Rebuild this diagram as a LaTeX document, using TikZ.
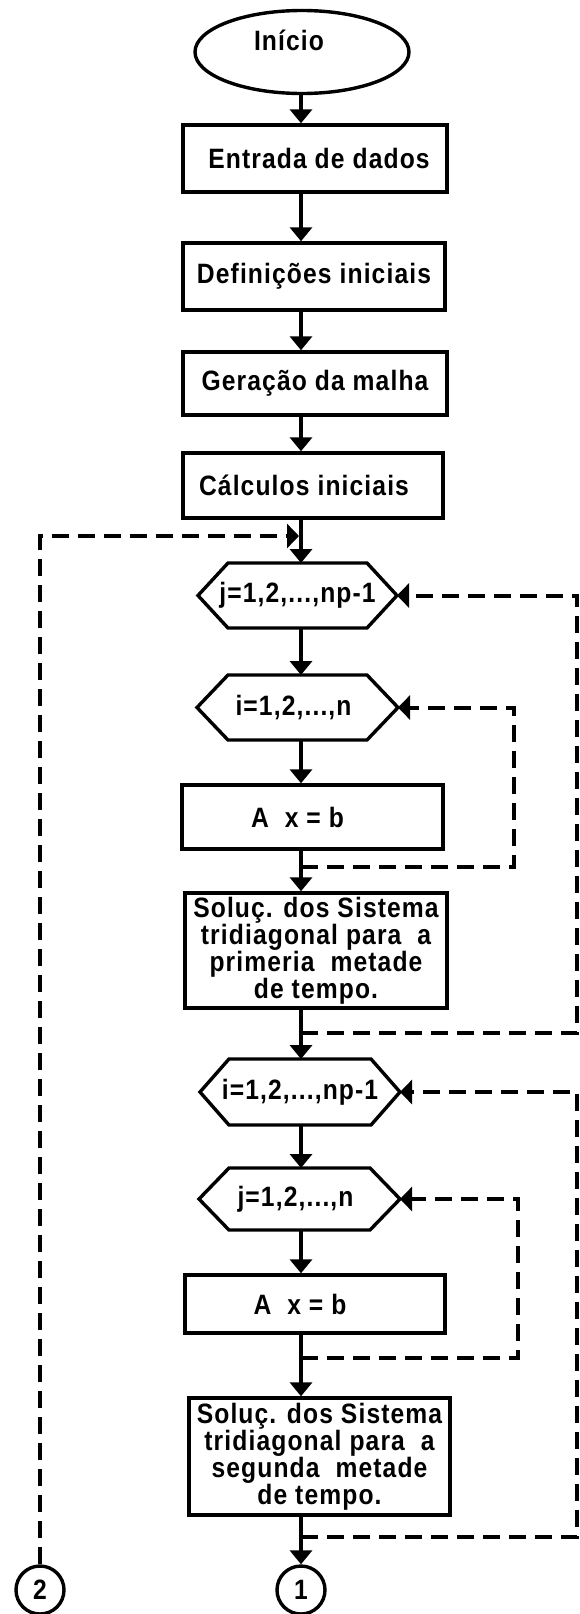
\documentclass[tikz,border=0pt]{standalone}
\usepackage{fontspec}
\setmainfont{Liberation Sans}[LetterSpace=4,FakeStretch=0.88]
\usetikzlibrary{shapes.geometric,arrows.meta}
\newcommand{\hexoutline}[2]{%
  \draw[hexline] (#1.west) -- ([xshift=#2]#1.north west) -- ([xshift=-#2]#1.north east)
    -- (#1.east) -- ([xshift=-#2]#1.south east) -- ([xshift=#2]#1.south west) -- cycle;}
\begin{document}
\begin{tikzpicture}[x=1pt,y=-1pt,
  every node/.style={font=\fontsize{28}{27}\selectfont\bfseries},
  boxnode/.style={draw,rectangle,line width=3.4pt,inner sep=0pt,align=center},
  hexnode/.style={rectangle,inner sep=0pt,outer sep=0pt},
  ellnode/.style={draw,ellipse,line width=3.4pt,inner sep=0pt},
  connnode/.style={draw,circle,line width=3.4pt,inner sep=0pt,minimum size=48pt},
  flowarrow/.style={line width=4pt,-{Triangle[width=22pt,length=14pt]}},
  dashflow/.style={line width=4pt,dash pattern=on 17pt off 9pt,-{Triangle[width=24pt,length=12pt]}},
  hexline/.style={line width=3.4pt,line join=miter}
]
\useasboundingbox (0,0) rectangle (580,1614);

% nodes
\node[ellnode,minimum width=214pt,minimum height=83pt,
      label={[xshift=-13pt,yshift=12pt]center:Início}] (ini) at (302,52) {};
\node[boxnode,minimum width=264pt,minimum height=67pt] (e) at (315,158.5) {\hspace*{8pt}Entrada de dados};
\node[boxnode,minimum width=262pt,minimum height=67pt] (d) at (314,276.5) {Definições iniciais};
\node[boxnode,minimum width=264pt,minimum height=63pt] (g) at (315,383.5) {Geração da malha};
\node[boxnode,minimum width=260pt,minimum height=65pt] (c) at (313,485.5) {Cálculos iniciais\hspace*{18pt}};

\node[hexnode,minimum width=199pt,minimum height=65pt] (h1) at (297.5,595.5) {j=1,2,...,np-1};
\hexoutline{h1}{30pt}
\node[hexnode,minimum width=201pt,minimum height=65pt] (h2) at (297.5,707.5) {i=1,2,...,n\hspace*{8pt}};
\hexoutline{h2}{31pt}
\node[boxnode,minimum width=261pt,minimum height=64pt] (a1) at (312.5,817) {A\ \ x = b\hspace*{30pt}};
\node[boxnode,minimum width=262pt,minimum height=115pt] (s1) at (316,950.5)
  {Soluç. dos Sistema\\tridiagonal para\ \ a\\primeria\ \ metade\\de tempo.};

\node[hexnode,minimum width=200pt,minimum height=66pt] (h3) at (300,1092) {i=1,2,...,np-1};
\hexoutline{h3}{29pt}
\node[hexnode,minimum width=201pt,minimum height=62pt] (h4) at (299.5,1199) {j=1,2,...,n\hspace*{8pt}};
\hexoutline{h4}{30pt}
\node[boxnode,minimum width=260pt,minimum height=58pt] (a2) at (315,1304) {A\ \ x = b\hspace*{30pt}};
\node[boxnode,minimum width=261pt,minimum height=117pt] (s2) at (319.5,1456.5)
  {Soluç. dos Sistema\\tridiagonal para\ \ a\\segunda\ \ metade\\de tempo.};

\node[connnode] (c1) at (301,1590) {1};
\node[connnode] (c2) at (40,1590) {2};

% main flow
\coordinate (ax) at (301,0);
\draw[flowarrow] (ini.south -| ax) -- (e.north -| ax);
\draw[flowarrow] (e.south -| ax) -- (d.north -| ax);
\draw[flowarrow] (d.south -| ax) -- (g.north -| ax);
\draw[flowarrow] (g.south -| ax) -- (c.north -| ax);
\draw[flowarrow] (c.south -| ax) -- (h1.north -| ax);
\draw[flowarrow] (h1.south -| ax) -- (h2.north -| ax);
\draw[flowarrow] (h2.south -| ax) -- (a1.north -| ax);
\draw[flowarrow] (a1.south -| ax) -- (s1.north -| ax);
\draw[flowarrow] (s1.south -| ax) -- (h3.north -| ax);
\draw[flowarrow] (h3.south -| ax) -- (h4.north -| ax);
\draw[flowarrow] (h4.south -| ax) -- (a2.north -| ax);
\draw[flowarrow] (a2.south -| ax) -- (s2.north -| ax);
\draw[flowarrow] (s2.south -| ax) -- (c1.north);

% dashed loops
\coordinate (j0) at (299,536);
\coordinate (j1) at (301,1033);
\coordinate (j2) at (301,867);
\coordinate (j3) at (301,1537);
\coordinate (j4) at (301,1358);
\coordinate (rA) at (577,0);
\coordinate (rB) at (514,0);
\coordinate (rC) at (518,0);
\draw[dashflow] (c2.north) -- (c2.north |- j0) -- (j0);
\draw[dashflow] (j2) -- (j2 -| rB) -- (h2.east -| rB) -- (h2.east);
\draw[dashflow] (j1) -- (j1 -| rA) -- (h1.east -| rA) -- (h1.east);
\draw[dashflow] (j4) -- (j4 -| rC) -- (h4.east -| rC) -- (h4.east);
\draw[dashflow] (j3) -- (j3 -| rA) -- (h3.east -| rA) -- (h3.east);
\end{tikzpicture}
\end{document}
